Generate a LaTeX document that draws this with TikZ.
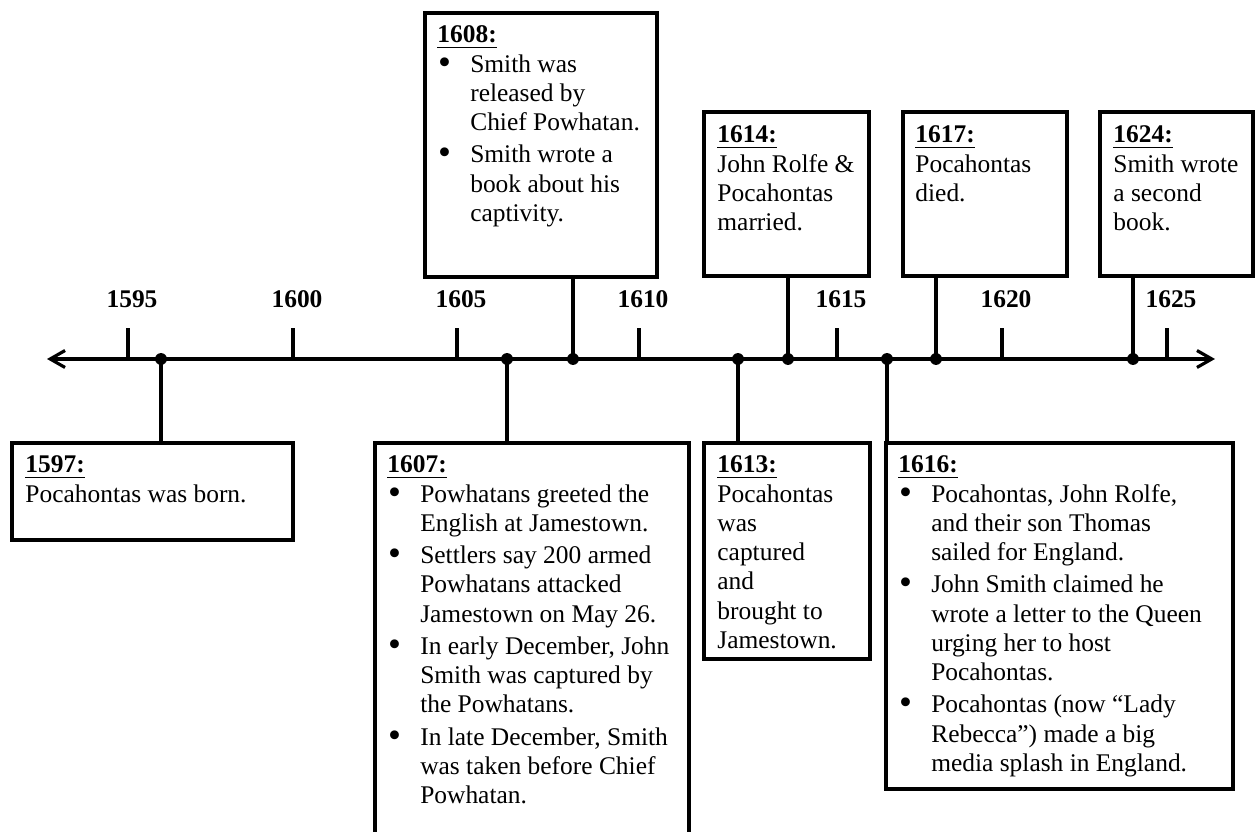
\documentclass[tikz,border=0pt]{standalone}
\usepackage{fontspec}
\usepackage{graphicx}
\setmainfont{Liberation Serif}
\usetikzlibrary{arrows.meta,fit}
\newcommand\yrlab[1]{\setbox0\hbox{\textbf{#1}}\rlap{\rule[-2.6pt]{\wd0}{0.9pt}}\box0}
\newcommand\bl{\makebox[15.5pt][l]{\hspace{0.3pt}\raisebox{-0.9pt}{\scalebox{1.45}{\textbullet}}}}
\newcommand\ind{\hspace*{15.5pt}}
\tikzset{
  box/.style={draw, line width=1.7pt, inner sep=0pt},
  txt/.style={anchor=north west, inner sep=0pt, align=left, font=\fontsize{12}{13.8}\selectfont},
  dot/.style={circle, fill, inner sep=0pt, minimum size=5.6pt},
  conn/.style={line width=1.5pt},
  tickmark/.style={line width=1.5pt},
  yearlbl/.style={anchor=base, inner sep=0pt, font=\fontsize{12}{13.8}\selectfont\bfseries},
  axis/.style={line width=1.5pt, {Straight Barb[length=7pt,width=8pt]}-{Straight Barb[length=7pt,width=8pt]}},
}
\begin{document}
\begin{tikzpicture}[x=0.4717pt,y=-0.4717pt]
\useasboundingbox (0,0) rectangle (1256,832);
\clip (0,0) rectangle (1256,832);
% axis
\coordinate (axL) at (47,359);
\coordinate (axR) at (1215,359);
\draw[axis] (axL) -- (axR);
% ticks and year labels
\foreach \yv/\xv in {1595/128,1600/293,1605/457,1610/639,1615/837,1620/1002,1625/1167}{
  \coordinate (t\yv) at (\xv,359);
  \draw[tickmark] (t\yv) -- ++(0,-31);
  \node[yearlbl] (l\yv) at (\xv+4,308) {\yv};
}
% boxes
\node[box, fit={(12,443) (293,540)}] (b1597) {};
\node[box, fit={(375,443) (689,860)}] (b1607) {};
\node[box, fit={(425,13) (657,277)}] (b1608) {};
\node[box, fit={(704,443) (870,659)}] (b1613) {};
\node[box, fit={(704,112) (869,276)}] (b1614) {};
\node[box, fit={(886,443) (1233,789)}] (b1616) {};
\node[box, fit={(903,112) (1067,276)}] (b1617) {};
\node[box, fit={(1100,112) (1253,276)}] (b1624) {};
% dots
\node[dot] (d1597) at (161,359) {};
\node[dot] (d1607) at (507,359) {};
\node[dot] (d1608) at (573,359) {};
\node[dot] (d1613) at (738,359) {};
\node[dot] (d1614) at (788,359) {};
\node[dot] (d1616) at (887,359) {};
\node[dot] (d1617) at (936,359) {};
\node[dot] (d1624) at (1133,359) {};
% connectors
\draw[conn] (d1597.center) -- (d1597 |- b1597.north);
\draw[conn] (d1607.center) -- (d1607 |- b1607.north);
\draw[conn] (d1608.center) -- (d1608 |- b1608.south);
\draw[conn] (d1613.center) -- (d1613 |- b1613.north);
\draw[conn] (d1614.center) -- (d1614 |- b1614.south);
\draw[conn] (d1616.center) -- (d1616 |- b1616.north);
\draw[conn] (d1617.center) -- (d1617 |- b1617.south);
\draw[conn] (d1624.center) -- (d1624 |- b1624.south);
% texts
\node[txt] (x1597) at (25,452) {\strut\yrlab{1597:}\\Pocahontas was born.};
\node[txt] (x1607) at (387,452) {\strut\yrlab{1607:}\\
\bl Powhatans greeted the\\
\ind English at Jamestown.\\[1.4pt]
\bl Settlers say 200 armed\\
\ind Powhatans attacked\\
\ind Jamestown on May 26.\\[1.4pt]
\bl In early December, John\\
\ind Smith was captured by\\
\ind the Powhatans.\\[1.4pt]
\bl In late December, Smith\\
\ind was taken before Chief\\
\ind Powhatan.};
\node[txt] (x1608) at (437,22) {\strut\yrlab{1608:}\\
\bl Smith was\\
\ind released by\\
\ind Chief Powhatan.\\[1.4pt]
\bl Smith wrote a\\
\ind book about his\\
\ind captivity.};
\node[txt] (x1613) at (717,452) {\strut\yrlab{1613:}\\Pocahontas\\was\\captured\\and\\brought to\\Jamestown.};
\node[txt] (x1614) at (717,122) {\strut\yrlab{1614:}\\John Rolfe \&\\Pocahontas\\married.};
\node[txt] (x1616) at (898,452) {\strut\yrlab{1616:}\\
\bl Pocahontas, John Rolfe,\\
\ind and their son Thomas\\
\ind sailed for England.\\[1.4pt]
\bl John Smith claimed he\\
\ind wrote a letter to the Queen\\
\ind urging her to host\\
\ind Pocahontas.\\[1.4pt]
\bl Pocahontas (now “Lady\\
\ind Rebecca”) made a big\\
\ind media splash in England.};
\node[txt] (x1617) at (915,122) {\strut\yrlab{1617:}\\Pocahontas\\died.};
\node[txt] (x1624) at (1113,122) {\strut\yrlab{1624:}\\Smith wrote\\a second\\book.};
\end{tikzpicture}
\end{document}
